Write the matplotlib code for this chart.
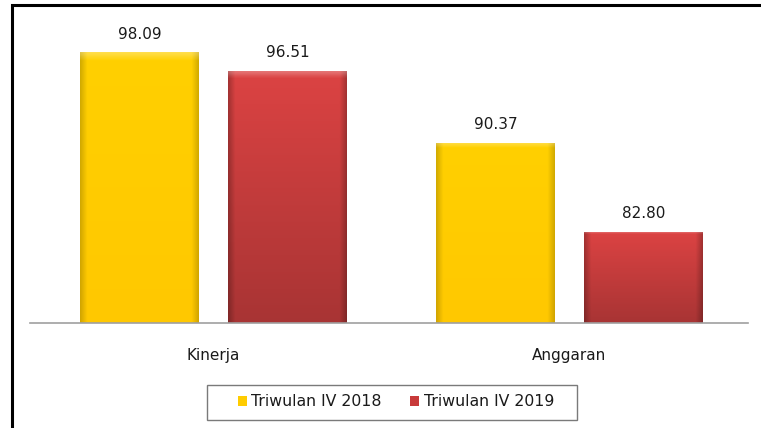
import numpy as np
import matplotlib
matplotlib.use("Agg")
import matplotlib.pyplot as plt
from matplotlib.patches import Rectangle
from matplotlib.colors import to_rgb

categories = ["Kinerja", "Anggaran"]
series_names = ["Triwulan IV 2018", "Triwulan IV 2019"]
values_2018 = [98.09, 90.37]
values_2019 = [96.51, 82.80]
value_labels_2018 = ["98.09", "90.37"]
value_labels_2019 = ["96.51", "82.80"]

W, H = 761, 428
fig = plt.figure(figsize=(W / 100, H / 100), dpi=100)
fig.patch.set_facecolor("white")

# axes placement in pixels
x0, x1 = 30, 748
y_base, y_top = 323, 20
ax = fig.add_axes([x0 / W, (H - y_base) / H, (x1 - x0) / W, (y_base - y_top) / H])
ax.set_facecolor("none")

x = np.arange(len(categories))
bw = 0.334
off = 0.208
ymin = 75.0
ppu = 11.73
ymax = ymin + (y_base - y_top) / ppu
ax.set_ylim(ymin, ymax)
ax.set_xlim(-0.5 - (213.5 - 178 - x0) / 356, 1.5 + (x1 - 747.5) / 356)


def gradient_fill(ax, bar, top_col, bot_col, edge_dark):
    bx, by = bar.get_x(), bar.get_y()
    bwid, bh = bar.get_width(), bar.get_height()
    n = 200
    t = np.linspace(0, 1, n)[:, None, None]  # 0 top -> 1 bottom
    top = np.array(to_rgb(top_col))[None, None, :]
    bot = np.array(to_rgb(bot_col))[None, None, :]
    img = top * (1 - t) + bot * t
    img = np.repeat(img, n, axis=1)
    u = np.linspace(0, 1, n)
    edge = np.clip(1 - np.minimum(u, 1 - u) / 0.06, 0, 1)[None, :, None]
    img = img * (1 - edge_dark * edge)
    hl = np.clip(1 - np.linspace(0, 1, n) / 0.03, 0, 1)[:, None, None]
    img = img + (1 - img) * 0.3 * hl
    im = ax.imshow(np.clip(img, 0, 1), extent=(bx, bx + bwid, by, by + bh),
                   aspect="auto", zorder=2, origin="upper")
    im.set_clip_path(bar)


bars1 = ax.bar(x - off, [v - ymin for v in values_2018], bw, bottom=ymin,
               color="#FFCC00", edgecolor="none", label=series_names[0], zorder=1)
bars2 = ax.bar(x + off, [v - ymin for v in values_2019], bw, bottom=ymin,
               color="#C83A3A", edgecolor="none", label=series_names[1], zorder=1)
for b in bars1:
    gradient_fill(ax, b, "#FFD000", "#FFC800", 0.18)
for b in bars2:
    gradient_fill(ax, b, "#DC4343", "#A83434", 0.25)

for b, v, s in zip(bars1, values_2018, value_labels_2018):
    ax.text(b.get_x() + b.get_width() / 2, v + 0.9, s, ha="center", va="bottom",
            fontsize=11, color="#1a1a1a")
for b, v, s in zip(bars2, values_2019, value_labels_2019):
    ax.text(b.get_x() + b.get_width() / 2, v + 0.9, s, ha="center", va="bottom",
            fontsize=11, color="#1a1a1a")

for s in ["top", "right", "left"]:
    ax.spines[s].set_visible(False)
ax.spines["bottom"].set_color("#A0A0A0")
ax.spines["bottom"].set_linewidth(1.2)
ax.set_yticks([])
ax.set_xticks(x)
ax.set_xticklabels(categories, fontsize=11, color="#1a1a1a")
ax.tick_params(axis="x", length=0, pad=18)

leg = fig.legend(handles=[bars1, bars2], labels=series_names, loc="center",
                 bbox_to_anchor=(396 / W, (H - 402) / H),
                 ncol=2, fontsize=11.3, frameon=False,
                 handlelength=0.55, handleheight=0.55, handletextpad=0.3,
                 columnspacing=1.8, borderpad=0.0)
for txt in leg.get_texts():
    txt.set_color("#1a1a1a")

# legend box
fig.add_artist(Rectangle((207 / W, (H - 420) / H), 370 / W, 35 / H,
                         transform=fig.transFigure, fill=False,
                         edgecolor="#7a7a7a", linewidth=1.0))

# outer frame (partially cut by the image edges)
fig.add_artist(Rectangle((12 / W, -0.1), 1.2, (H - 5) / H + 0.1,
                         transform=fig.transFigure, fill=False,
                         edgecolor="black", linewidth=2.2))

fig.savefig("out.png", dpi=100)
